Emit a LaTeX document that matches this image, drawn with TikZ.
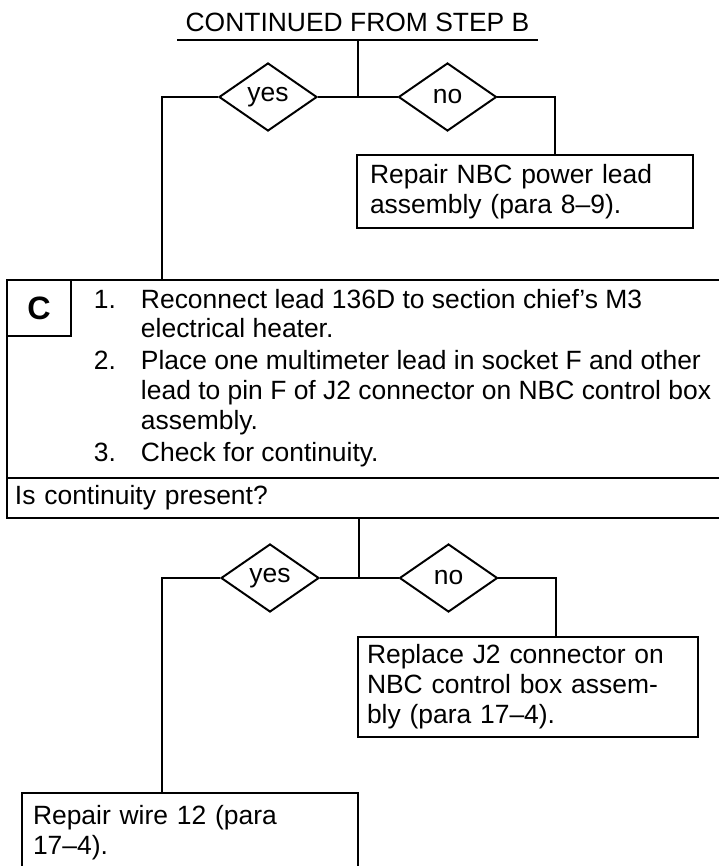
\documentclass[tikz,border=0pt]{standalone}
\usepackage{fontspec}
\setmainfont{Liberation Sans}
\usetikzlibrary{shapes.geometric,positioning,calc}
\newlength{\pxu}\setlength{\pxu}{0.025cm}

\begin{document}
\begin{tikzpicture}[x=0.025cm,y=-0.025cm,font=\fontsize{18.8}{21.3}\selectfont,line width=1.4pt,
      dec/.style={draw,diamond,minimum width=98\pxu,minimum height=68\pxu,inner sep=0pt},
      fixbox/.style={draw,align=left,inner ysep=0pt,outer sep=0pt,anchor=north west},
      cell/.style={draw,anchor=north west,inner sep=0pt,outer sep=0pt}]
    \useasboundingbox (0,0) rectangle (718,866);

    % header bar
    \node (title) at (357.5,22) {CONTINUED FROM STEP B};
    \coordinate (barL) at (177,40);
    \coordinate (barR) at (538,40);
    \coordinate (barM) at (358,40);
    \draw (barL) -- (barR);

    % first decision
    \coordinate (j1) at (358,97);
    \coordinate (l1) at (162,97);
    \coordinate (r1) at (555,97);
    \node[dec] (yes1) at (268,97)   {yes};
    \node[dec] (no1)  at (447.5,97) {no};
    \node[fixbox,inner xsep=13\pxu,text width=310\pxu,minimum height=73\pxu] (fix1) at (357,155)
      {Repair NBC power lead\\assembly (para 8--9).};

    % step C
    \node[cell,minimum width=715\pxu,minimum height=198\pxu] (stepC) at (7,280) {};
    \node[cell,minimum width=64\pxu,minimum height=56\pxu,font=\fontsize{23}{26}\selectfont\bfseries]
      (tagC) at (stepC.north west) {C};
    \node[anchor=base west,inner sep=0pt] (steps) at (93,308) {%
      \begin{tabular}[t]{@{}p{47\pxu}@{}l@{}}
        1. & Reconnect lead 136D to section chief’s M3\\
           & electrical heater.\\[2\pxu]
        2. & Place one multimeter lead in socket F and other\\
           & lead to pin F of J2 connector on NBC control box\\
           & assembly.\\[2\pxu]
        3. & Check for continuity.
      \end{tabular}};
    \node[cell,inner xsep=8\pxu,text width=699\pxu,minimum height=40\pxu,align=left]
      (ask) at (stepC.south west) {Is continuity present?};

    % second decision
    \coordinate (j2) at (359,578);
    \coordinate (l2) at (162,578);
    \coordinate (r2) at (556,578);
    \node[dec] (yes2) at (270,578)   {yes};
    \node[dec] (no2)  at (448.5,578) {no};
    \node[fixbox,inner xsep=9\pxu,text width=322\pxu,minimum height=100\pxu] (fix2) at (358,637)
      {Replace J2 connector on\\NBC control box assem-\\bly (para 17--4).};
    \node[fixbox,inner xsep=11\pxu,text width=314\pxu,minimum height=80\pxu] (fix3) at (22,793)
      {Repair wire 12 (para\\17--4).};

    % connectors
    \draw (barM) -- (j1);
    \foreach \d in {yes1,no1}
      \draw (j1) -- (\d);
    \draw (yes1) -- (l1) -- (l1 |- stepC.north);
    \draw (no1) -- (r1) -- (r1 |- fix1.north);
    \draw (j2 |- ask.south) -- (j2);
    \foreach \d in {yes2,no2}
      \draw (j2) -- (\d);
    \draw (yes2) -- (l2) -- (l2 |- fix3.north);
    \draw (no2) -- (r2) -- (r2 |- fix2.north);
  \end{tikzpicture}
\end{document}
